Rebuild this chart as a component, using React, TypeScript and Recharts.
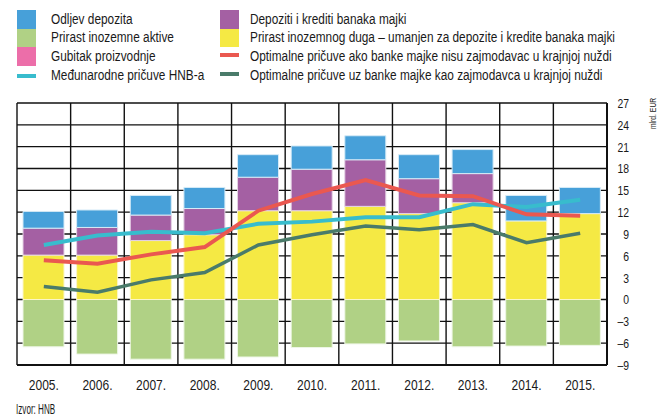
import React from 'react';
import { ComposedChart, Bar, Line, XAxis, YAxis, CartesianGrid } from 'recharts';

const years = ['2005.', '2006.', '2007.', '2008.', '2009.', '2010.', '2011.', '2012.', '2013.', '2014.', '2015.'];

// stacked bars (mlrd. EUR)
const inozemniDug = [6.1, 6.1, 8.1, 8.9, 12.2, 12.2, 12.8, 11.8, 13.3, 10.8, 11.8];
const depozitiBanakaMajki = [3.7, 3.8, 3.5, 3.6, 4.6, 5.7, 6.4, 4.8, 4.0, 0, 0];
const odljevDepozita = [2.3, 2.4, 2.7, 2.9, 3.1, 3.2, 3.3, 3.3, 3.3, 3.5, 3.6];
const gubitakProizvodnje = [0, 0, 0, 0, 0, 0, 0, 0, 0, 0, 0];
const inozemnaAktiva = [-6.5, -7.5, -8.2, -8.2, -7.9, -6.6, -6.1, -5.7, -6.5, -6.4, -6.3];

// lines
const pricuveHnb = [7.5, 8.8, 9.3, 9.1, 10.4, 10.7, 11.3, 11.3, 13.1, 12.7, 13.7];
const optimalneBez = [5.4, 4.9, 6.2, 7.2, 12.2, 14.5, 16.4, 14.3, 14.2, 11.7, 11.5];
const optimalneUz = [1.8, 1.0, 2.7, 3.7, 7.5, 8.9, 10.1, 9.6, 10.3, 7.8, 9.1];

const yTicks = [-9, -6, -3, 0, 3, 6, 9, 12, 15, 18, 21, 24, 27];

const COLORS = {
  blue: '#47a0d9',
  purple: '#a460a3',
  yellow: '#f5e944',
  green: '#b0d185',
  pink: '#ec6ea9',
  cyan: '#38bccd',
  red: '#ea5850',
  darkGreen: '#4a7b6a',
};

// condensed look: Arial-metric font squeezed horizontally
const FONT = '"Liberation Sans", Arial, sans-serif';
const TEXT = '#1a1a1a';

const data = years.map((year, i) => ({
  year,
  inozemniDug: inozemniDug[i],
  depozitiBanakaMajki: depozitiBanakaMajki[i],
  odljevDepozita: odljevDepozita[i],
  gubitakProizvodnje: gubitakProizvodnje[i],
  inozemnaAktiva: inozemnaAktiva[i],
  pricuveHnb: pricuveHnb[i],
  optimalneBez: optimalneBez[i],
  optimalneUz: optimalneUz[i],
}));

type LegendItem = { label: string; color: string; kind: 'box' | 'line' };

const legendLeft: LegendItem[] = [
  { label: 'Odljev depozita', color: COLORS.blue, kind: 'box' },
  { label: 'Prirast inozemne aktive', color: COLORS.green, kind: 'box' },
  { label: 'Gubitak proizvodnje', color: COLORS.pink, kind: 'box' },
  { label: 'Međunarodne pričuve HNB-a', color: COLORS.cyan, kind: 'line' },
];

const legendRight: LegendItem[] = [
  { label: 'Depoziti i krediti banaka majki', color: COLORS.purple, kind: 'box' },
  { label: 'Prirast inozemnog duga – umanjen za depozite i kredite banaka majki', color: COLORS.yellow, kind: 'box' },
  { label: 'Optimalne pričuve ako banke majke nisu zajmodavac u krajnjoj nuždi', color: COLORS.red, kind: 'line' },
  { label: 'Optimalne pričuve uz banke majke kao zajmodavca u krajnjoj nuždi', color: COLORS.darkGreen, kind: 'line' },
];

function LegendColumn({
  items,
  swatchX,
  textX,
  lineOffset,
}: {
  items: LegendItem[];
  swatchX: number;
  textX: number;
  lineOffset: number;
}) {
  return (
    <>
      {items.map((item, i) => {
        const top = 10 + i * 18.7;
        return (
          <React.Fragment key={item.label}>
            {item.kind === 'box' ? (
              <div style={{ position: 'absolute', left: swatchX, top, width: 19, height: 18.7, background: item.color }} />
            ) : (
              <div
                style={{
                  position: 'absolute',
                  left: swatchX,
                  top: top + lineOffset,
                  width: 19,
                  height: 4,
                  background: item.color,
                }}
              />
            )}
            <div
              style={{
                position: 'absolute',
                left: textX,
                top: top - 0.5,
                lineHeight: '18px',
                fontSize: 14,
                color: TEXT,
                whiteSpace: 'nowrap',
                transform: 'scaleX(0.845)',
                transformOrigin: '0 0',
              }}
            >
              {item.label}
            </div>
          </React.Fragment>
        );
      })}
    </>
  );
}

function RightTick(props: any) {
  const { y, payload } = props;
  const v = payload.value as number;
  return (
    <text
      transform={`translate(629 ${y}) scale(0.8 1)`}
      textAnchor="end"
      dominantBaseline="central"
      fontSize={13}
      fill={TEXT}
      fontFamily={FONT}
    >
      {v < 0 ? `–${-v}` : v}
    </text>
  );
}

function YearTick(props: any) {
  const { x, payload } = props;
  return (
    <text
      transform={`translate(${x} 385) scale(0.86 1)`}
      textAnchor="middle"
      dominantBaseline="central"
      fontSize={14}
      fill={TEXT}
      fontFamily={FONT}
    >
      {payload.value}
    </text>
  );
}

export default function App() {
  return (
    <div
      style={{
        position: 'absolute',
        left: 0,
        top: 0,
        width: 671,
        height: 420,
        background: '#fff',
        fontFamily: FONT,
      }}
    >
      <LegendColumn items={legendLeft} swatchX={17} textX={51} lineOffset={7.6} />
      <LegendColumn items={legendRight} swatchX={220} textX={250} lineOffset={5.5} />

      <ComposedChart
        width={671}
        height={420}
        data={data}
        stackOffset="sign"
        margin={{ top: 103, right: 0, left: 17, bottom: 25 }}
        style={{ position: 'absolute', left: 0, top: 0 }}
      >
        <CartesianGrid
          stroke="#111"
          strokeWidth={1.4}
          verticalCoordinatesGenerator={({ offset }: any) =>
            years.map((_, i) => offset.left + (i * offset.width) / years.length).concat(offset.left + offset.width)
          }
        />
        <XAxis
          dataKey="year"
          height={30}
          tickLine={false}
          axisLine={{ stroke: '#111', strokeWidth: 2 }}
          tick={<YearTick />}
          interval={0}
        />
        <YAxis
          orientation="right"
          width={64}
          domain={[-9, 27]}
          ticks={yTicks}
          interval={0}
          tickLine={false}
          axisLine={{ stroke: '#111', strokeWidth: 2 }}
          tick={<RightTick />}
        />
        <Bar dataKey="inozemnaAktiva" stackId="a" fill={COLORS.green} stroke="#eef6e6" strokeWidth={1} barSize={41} isAnimationActive={false} />
        <Bar dataKey="gubitakProizvodnje" stackId="a" fill={COLORS.pink} barSize={41} isAnimationActive={false} />
        <Bar dataKey="inozemniDug" stackId="a" fill={COLORS.yellow} stroke="#fbf6c8" strokeWidth={1} barSize={41} isAnimationActive={false} />
        <Bar dataKey="depozitiBanakaMajki" stackId="a" fill={COLORS.purple} stroke="#e4d2e4" strokeWidth={1} barSize={41} isAnimationActive={false} />
        <Bar dataKey="odljevDepozita" stackId="a" fill={COLORS.blue} stroke="#d6ebf7" strokeWidth={1} barSize={41} isAnimationActive={false} />
        <Line dataKey="pricuveHnb" stroke={COLORS.cyan} strokeWidth={4} dot={false} isAnimationActive={false} />
        <Line dataKey="optimalneUz" stroke={COLORS.darkGreen} strokeWidth={3.5} dot={false} isAnimationActive={false} />
        <Line dataKey="optimalneBez" stroke={COLORS.red} strokeWidth={4} dot={false} isAnimationActive={false} />
      </ComposedChart>

      <div
        style={{
          position: 'absolute',
          left: 648,
          top: 129,
          transform: 'rotate(-90deg) scaleX(0.75)',
          transformOrigin: '0 0',
          fontSize: 9,
          color: TEXT,
          whiteSpace: 'nowrap',
          lineHeight: '11px',
        }}
      >
        mlrd. EUR
      </div>
      <div
        style={{
          position: 'absolute',
          left: 16,
          top: 401,
          fontSize: 14,
          lineHeight: '17px',
          color: TEXT,
          whiteSpace: 'nowrap',
          transform: 'scaleX(0.58)',
          transformOrigin: '0 0',
        }}
      >
        Izvor: HNB
      </div>
    </div>
  );
}
